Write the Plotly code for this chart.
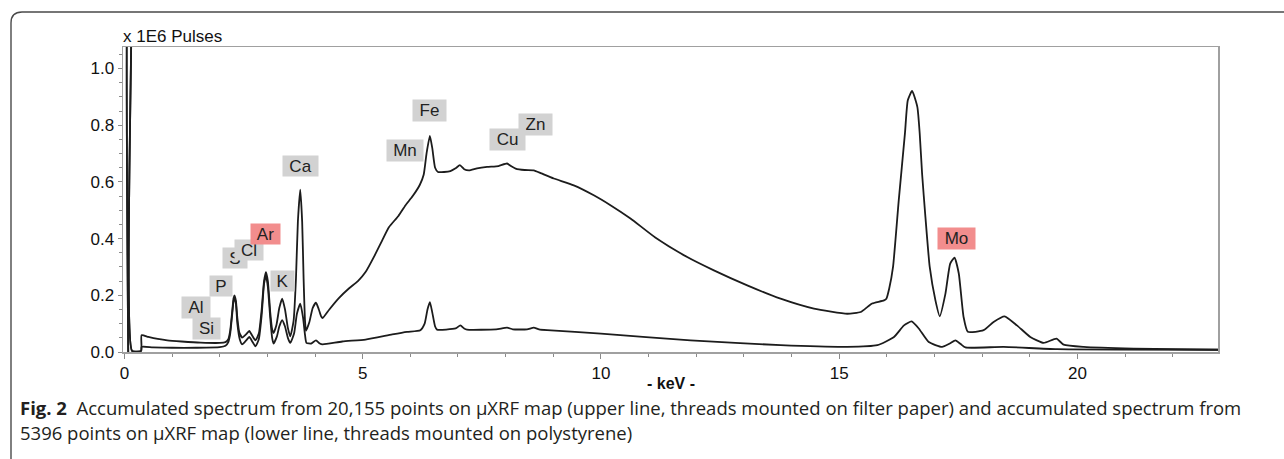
import plotly.graph_objects as go

# ---------------- data ----------------
upper_kev = [0.08, 0.10, 0.14, 0.16, 0.35, 0.36, 0.50, 0.70, 0.90, 1.20, 1.60, 2.00, 2.12, 2.18,
             2.22, 2.26, 2.29, 2.31, 2.34, 2.37, 2.41, 2.47, 2.55, 2.62, 2.68, 2.75, 2.82, 2.88,
             2.93, 2.97, 3.01, 3.06, 3.10, 3.13, 3.19, 3.25, 3.31, 3.37, 3.43, 3.48, 3.55, 3.60,
             3.64, 3.69, 3.73, 3.76, 3.79, 3.81, 3.88, 3.95, 4.02, 4.08, 4.13, 4.16, 4.30, 4.50,
             4.71, 4.90, 5.06, 5.25, 5.41, 5.55, 5.75, 5.90, 6.05, 6.20, 6.28, 6.34, 6.41, 6.46,
             6.52, 6.58, 6.84, 6.95, 7.04, 7.13, 7.23, 7.40, 7.61, 7.85, 8.03, 8.12, 8.21, 8.40,
             8.59, 8.75, 9.01, 9.43, 9.85, 10.20, 10.62, 11.14, 11.81, 12.37, 13.07, 13.77, 14.47,
             15.17, 15.45, 15.60, 15.69, 15.94, 15.99, 16.05, 16.13, 16.25, 16.38, 16.44, 16.53,
             16.64, 16.69, 16.74, 16.81, 16.90, 17.02, 17.11, 17.23, 17.33, 17.42, 17.51, 17.61,
             17.70, 18.03, 18.24, 18.47, 18.73, 19.01, 19.29, 19.56, 19.71, 20.13, 21.18, 22.95]
upper_counts = [0.0, 1.5, 1.5, 0.004, 0.004, 0.059, 0.053, 0.046, 0.041, 0.037, 0.033, 0.032, 0.035, 0.045,
                0.075, 0.14, 0.19, 0.200, 0.18, 0.12, 0.07, 0.051, 0.062, 0.074, 0.058, 0.041, 0.065, 0.15,
                0.25, 0.282, 0.25, 0.14, 0.08, 0.067, 0.095, 0.155, 0.188, 0.15, 0.085, 0.055, 0.11, 0.26,
                0.46, 0.573, 0.46, 0.26, 0.11, 0.075, 0.105, 0.155, 0.174, 0.150, 0.125, 0.120, 0.150, 0.190,
                0.224, 0.250, 0.282, 0.340, 0.394, 0.440, 0.480, 0.518, 0.550, 0.590, 0.625, 0.700, 0.762, 0.720,
                0.650, 0.635, 0.638, 0.648, 0.659, 0.645, 0.641, 0.648, 0.653, 0.656, 0.665, 0.655, 0.647, 0.642,
                0.641, 0.630, 0.612, 0.588, 0.553, 0.518, 0.471, 0.404, 0.335, 0.288, 0.235, 0.188, 0.153,
                0.135, 0.141, 0.160, 0.171, 0.182, 0.188, 0.224, 0.300, 0.535, 0.771, 0.888, 0.921,
                0.865, 0.771, 0.629, 0.476, 0.300, 0.182, 0.126, 0.206, 0.312, 0.333, 0.277, 0.124,
                0.071, 0.077, 0.106, 0.126, 0.094, 0.053, 0.032, 0.047, 0.026, 0.018, 0.012, 0.008]

lower_kev = [0.08, 0.10, 0.14, 0.16, 0.35, 0.36, 0.60, 1.00, 1.50, 2.00, 2.12, 2.18, 2.22, 2.26,
             2.29, 2.31, 2.34, 2.37, 2.42, 2.47, 2.55, 2.62, 2.68, 2.75, 2.82, 2.88, 2.93, 2.97,
             3.01, 3.06, 3.10, 3.13, 3.20, 3.25, 3.31, 3.37, 3.43, 3.48, 3.56, 3.62, 3.69, 3.75,
             3.79, 3.82, 3.92, 4.02, 4.10, 4.16, 4.57, 5.06, 5.62, 5.93, 6.21, 6.30, 6.36, 6.41,
             6.46, 6.52, 6.56, 6.95, 7.05, 7.13, 7.19, 7.80, 8.03, 8.15, 8.45, 8.59, 8.70, 8.87,
             10.00, 11.88, 13.77, 15.17, 15.80, 16.15, 16.36, 16.52, 16.67, 16.88, 17.16, 17.32,
             17.44, 17.55, 17.65, 18.45, 19.57, 22.95]
lower_counts = [0.0, 1.5, 1.5, 0.004, 0.004, 0.018, 0.016, 0.015, 0.015, 0.017, 0.022, 0.035, 0.065, 0.13,
                0.18, 0.19, 0.17, 0.10, 0.045, 0.027, 0.040, 0.053, 0.038, 0.020, 0.045, 0.13, 0.24, 0.270,
                0.23, 0.12, 0.05, 0.030, 0.055, 0.090, 0.112, 0.090, 0.050, 0.032, 0.065, 0.135, 0.171, 0.120,
                0.060, 0.032, 0.030, 0.041, 0.030, 0.027, 0.037, 0.044, 0.062, 0.071, 0.077, 0.100, 0.150, 0.176,
                0.140, 0.090, 0.079, 0.083, 0.094, 0.083, 0.079, 0.080, 0.086, 0.080, 0.080, 0.086, 0.080, 0.077,
                0.065, 0.041, 0.024, 0.018, 0.024, 0.053, 0.094, 0.108, 0.083, 0.035, 0.018, 0.030,
                0.041, 0.028, 0.016, 0.018, 0.010, 0.008]

elements = ["Ca", "S", "Cl", "Ar", "P", "Al", "Si", "K", "Fe", "Mn", "Zn", "Cu", "Mo"]
highlighted = ["Ar", "Mo"]

x_tick_vals = [0, 5, 10, 15, 20]
x_tick_text = ["0", "5", "10", "15", "20"]
y_tick_vals = [0.0, 0.2, 0.4, 0.6, 0.8, 1.0]
y_tick_text = ["0.0", "0.2", "0.4", "0.6", "0.8", "1.0"]

# label placement (data coords of box centre) and box size in px
label_layout = {
    "Ca": (3.685, 0.656, 35, 20), "S": (2.315, 0.333, 24, 20), "Cl": (2.619, 0.361, 28, 20),
    "Ar": (2.957, 0.416, 29, 20), "P": (2.017, 0.233, 22, 20), "Al": (1.492, 0.158, 28, 21),
    "Si": (1.727, 0.082, 27, 21), "K": (3.307, 0.251, 23, 20), "Fe": (6.397, 0.852, 33, 21),
    "Mn": (5.882, 0.711, 36, 21), "Zn": (8.632, 0.801, 33, 21), "Cu": (8.040, 0.749, 35, 21),
    "Mo": (17.467, 0.401, 37, 21),
}

# ---------------- figure ----------------
W, H = 1284, 459
L, R, T, B = 123, 66, 47, 107
PW, PH = W - L - R, H - T - B


def px(xp):
    return (xp - L) / PW


def py(yp):
    return (H - B - yp) / PH


fig = go.Figure()
for xs, ys in [(upper_kev, upper_counts), (lower_kev, lower_counts)]:
    fig.add_trace(go.Scatter(x=xs, y=ys, mode="lines",
                             line=dict(color="#1c1c1c", width=1.8, shape="spline", smoothing=0.5),
                             hoverinfo="skip", showlegend=False))

annotations = []
for el in elements:
    lx, ly, bw, bh = label_layout[el]
    annotations.append(dict(
        x=lx, y=ly, xref="x", yref="y", text=el, showarrow=False,
        width=bw, height=bh, borderpad=0,
        bgcolor="#f28d8d" if el in highlighted else "#d2d2d2",
        font=dict(family="Liberation Sans, Arial, sans-serif", size=17, color="#222"),
        xanchor="center", yanchor="middle", align="center", valign="middle"))

annotations.append(dict(x=px(121), y=py(37), xref="paper", yref="paper", text="x 1E6 Pulses",
                        showarrow=False, xanchor="left", yanchor="middle",
                        font=dict(family="Liberation Sans, Arial, sans-serif", size=17, color="#111")))
annotations.append(dict(x=0.5, y=py(383), xref="paper", yref="paper", text="<b>- keV -</b>",
                        showarrow=False, xanchor="center", yanchor="middle",
                        font=dict(family="Liberation Sans, Arial, sans-serif", size=16, color="#111")))
cap_font = dict(family="Open Sans, sans-serif", size=18.5, color="#231f20")
annotations.append(dict(x=px(18), y=py(407), xref="paper", yref="paper",
                        text="<b>Fig. 2</b>  Accumulated spectrum from 20,155 points on µXRF map (upper line, threads mounted on filter paper) and accumulated spectrum from",
                        showarrow=False, xanchor="left", yanchor="middle", font=cap_font))
annotations.append(dict(x=px(18), y=py(432), xref="paper", yref="paper",
                        text="5396 points on µXRF map (lower line, threads mounted on polystyrene)",
                        showarrow=False, xanchor="left", yanchor="middle", font=cap_font))

# outer article frame with rounded top-left corner
fl, ft, rr = 11, 12, 11
frame_path = (f"M {px(fl)},{py(H + 5)} L {px(fl)},{py(ft + rr)} "
              f"Q {px(fl)},{py(ft)} {px(fl + rr)},{py(ft)} L {px(W + 5)},{py(ft)}")

fig.update_layout(
    width=W, height=H, margin=dict(l=L, r=R, t=T, b=B, pad=0),
    paper_bgcolor="white", plot_bgcolor="white",
    font=dict(family="Liberation Sans, Arial, sans-serif", size=17, color="#111"),
    annotations=annotations,
    shapes=[dict(type="path", path=frame_path, xref="paper", yref="paper",
                 line=dict(color="#4a4a4a", width=1.4), layer="above")],
)
fig.update_xaxes(range=[-0.03, 22.95], tickmode="array", tickvals=x_tick_vals, ticktext=x_tick_text,
                 ticks="outside", ticklen=5, tickcolor="#8a8a8a", tickwidth=1,
                 showline=True, linecolor="#a0a0a0", linewidth=1.5, mirror=True,
                 showgrid=False, zeroline=False,
                 minor=dict(tickmode="linear", tick0=0, dtick=1, ticks="outside", ticklen=3,
                            tickcolor="#8a8a8a", showgrid=False))
fig.update_yaxes(range=[0.0, 1.076], tickmode="array", tickvals=y_tick_vals, ticktext=y_tick_text,
                 ticks="outside", ticklen=4, tickcolor="#8a8a8a", tickwidth=1,
                 showline=True, linecolor="#a0a0a0", linewidth=1.5, mirror=True,
                 showgrid=False, zeroline=False,
                 minor=dict(tickmode="linear", tick0=0, dtick=0.05, ticks="outside", ticklen=3,
                            tickcolor="#8a8a8a", showgrid=False))

fig.write_html("out.html", config={"displayModeBar": False, "staticPlot": True},
               post_script="document.body.style.margin='0';document.body.style.overflow='hidden';")
